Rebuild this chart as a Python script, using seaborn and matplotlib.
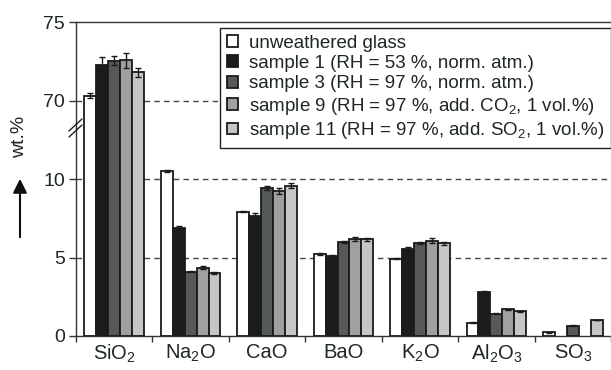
import numpy as np
import pandas as pd
import matplotlib
matplotlib.use("Agg")
import matplotlib.pyplot as plt
from matplotlib.lines import Line2D
from matplotlib.container import BarContainer
import seaborn as sns

oxides = ["SiO$_2$", "Na$_2$O", "CaO", "BaO", "K$_2$O", "Al$_2$O$_3$", "SO$_3$"]
samples = ["unweathered glass",
           "sample 1 (RH = 53 %, norm. atm.)",
           "sample 3 (RH = 97 %, norm. atm.)",
           "sample 9 (RH = 97 %, add. CO$_2$, 1 vol.%)",
           "sample 11 (RH = 97 %, add. SO$_2$, 1 vol.%)"]

unweathered = [70.30, 10.50, 7.92, 5.22, 4.93, 0.85, 0.23]
sample1 = [72.28, 6.90, 7.66, 5.10, 5.52, 2.83, np.nan]
sample3 = [72.53, 4.10, 9.45, 5.97, 5.95, 1.42, 0.66]
sample9 = [72.55, 4.35, 9.24, 6.18, 6.07, 1.70, np.nan]
sample11 = [71.80, 4.03, 9.57, 6.16, 5.90, 1.57, 1.02]

err_unweathered = [0.17, 0.07, 0.05, 0.04, 0.05, 0.02, 0.02]
err_sample1 = [0.48, 0.12, 0.15, 0.07, 0.12, 0.04, 0.0]
err_sample3 = [0.28, 0.05, 0.12, 0.06, 0.06, 0.02, 0.03]
err_sample9 = [0.50, 0.10, 0.20, 0.10, 0.15, 0.04, 0.0]
err_sample11 = [0.30, 0.05, 0.15, 0.08, 0.10, 0.03, 0.02]

colors = ["#ffffff", "#1c1c1c", "#555a5a", "#a0a0a0", "#c6c6c6"]

values = [unweathered, sample1, sample3, sample9, sample11]
errors = [err_unweathered, err_sample1, err_sample3, err_sample9, err_sample11]

rows = []
for s, vals in zip(samples, values):
    for o, v in zip(oxides, vals):
        rows.append({"oxide": o, "sample": s, "value": v})
df = pd.DataFrame(rows)

sns.set_style("ticks")
plt.rcParams["font.family"] = ["Liberation Sans", "DejaVu Sans"]
plt.rcParams["mathtext.fontset"] = "custom"
plt.rcParams["mathtext.rm"] = "Liberation Sans"
plt.rcParams["mathtext.it"] = "Liberation Sans:italic"
plt.rcParams["mathtext.bf"] = "Liberation Sans:bold"

txt = "#1f2626"
W, H = 611, 370
fig = plt.figure(figsize=(W / 100, H / 100), dpi=100)
left, right = 76 / W, 1.0
top_px, brk_px, bot_px = 22, 128, 336
ax_top = fig.add_axes([left, 1 - brk_px / H, right - left, (brk_px - top_px) / H])
ax_bot = fig.add_axes([left, 1 - bot_px / H, right - left, (bot_px - brk_px) / H])
ax_bot.patch.set_alpha(0)
ax_top.patch.set_alpha(0)

pal = dict(zip(samples, colors))
for ax in (ax_top, ax_bot):
    sns.barplot(data=df, x="oxide", y="value", hue="sample", hue_order=samples,
                order=oxides, palette=pal, edgecolor="#1a1a1a", linewidth=1.3,
                width=0.78, ax=ax, errorbar=None, zorder=3)
    bar_conts = [c for c in ax.containers if isinstance(c, BarContainer)]
    for i, cont in enumerate(bar_conts):
        for patch in cont.patches:
            h = patch.get_height()
            if not np.isfinite(h) or h == 0:
                continue
            xc = patch.get_x() + patch.get_width() / 2
            gi = int(round(xc))
            e = errors[i][gi]
            if e > 0:
                ax.errorbar(xc, h, yerr=e, fmt="none", ecolor="#1a1a1a",
                            elinewidth=1.0, capsize=2.5, capthick=1.0, zorder=4)
    ax.set_xlabel("")
    ax.set_ylabel("")
    ax.set_xlim(-0.5, 6.5)
    ax.spines["right"].set_visible(False)

handles, labels = ax_bot.get_legend_handles_labels()
for ax in (ax_top, ax_bot):
    if ax.get_legend() is not None:
        ax.get_legend().remove()

ax_top.set_ylim(68.25, 75.0)
ax_bot.set_ylim(0, 13.25)

ax_top.spines["bottom"].set_visible(False)
ax_bot.spines["top"].set_visible(False)
for ax in (ax_top, ax_bot):
    for sp in ax.spines.values():
        sp.set_color("#333333")
        sp.set_linewidth(1.0)

ax_top.set_yticks([70, 75])
ax_bot.set_yticks([0, 5, 10])
ax_top.tick_params(axis="x", which="both", bottom=False, labelbottom=False)
for ax in (ax_top, ax_bot):
    ax.tick_params(axis="y", direction="out", length=5, width=1, color="#333333",
                   labelsize=14, labelcolor=txt, pad=3)

ax_bot.set_xticks(range(len(oxides)))
ax_bot.set_xticklabels(oxides)
ax_bot.set_xticks(np.arange(-0.5, 7.0, 1.0), minor=True)
ax_bot.tick_params(axis="x", which="major", length=0, labelsize=14.5,
                   labelcolor=txt, pad=5)
ax_bot.tick_params(axis="x", which="minor", length=4, width=1,
                   color="#333333", direction="out")

for yv in (5, 10):
    ax_bot.axhline(yv, color="#444444", lw=1.0, ls=(0, (4, 3)), zorder=1)
ax_top.axhline(70, color="#444444", lw=1.0, ls=(0, (4, 3)), zorder=1)

for dy in (-3, 3):
    y0 = 1 - (brk_px + dy + 6) / H
    y1 = 1 - (brk_px + dy - 6) / H
    fig.add_artist(Line2D([(left * W - 7) / W, (left * W + 6) / W], [y0, y1],
                          transform=fig.transFigure, color="#222222", lw=1.0))

fig.text(20 / W, 1 - 137 / H, "wt.%", rotation=90, ha="center", va="center",
         fontsize=14, color=txt)
fig.add_artist(plt.Annotation("", xy=(20 / W, 1 - 176 / H), xytext=(20 / W, 1 - 240 / H),
                              xycoords="figure fraction", textcoords="figure fraction",
                              arrowprops=dict(arrowstyle="-|>,head_length=0.7,head_width=0.35",
                                              mutation_scale=12,
                                              color="#111111", lw=1.5)))

leg = fig.legend(handles, labels, loc="upper left",
                 bbox_to_anchor=(220 / W, 1 - 28 / H), bbox_transform=fig.transFigure,
                 frameon=True, fancybox=False, edgecolor="#222222", framealpha=1,
                 fontsize=13.5, handlelength=0.6, handleheight=0.6,
                 handletextpad=0.6, labelspacing=0.18, borderpad=0.35,
                 borderaxespad=0)
leg.get_frame().set_linewidth(1.0)
for t in leg.get_texts():
    t.set_color(txt)

fig.savefig("out.png", dpi=100)
